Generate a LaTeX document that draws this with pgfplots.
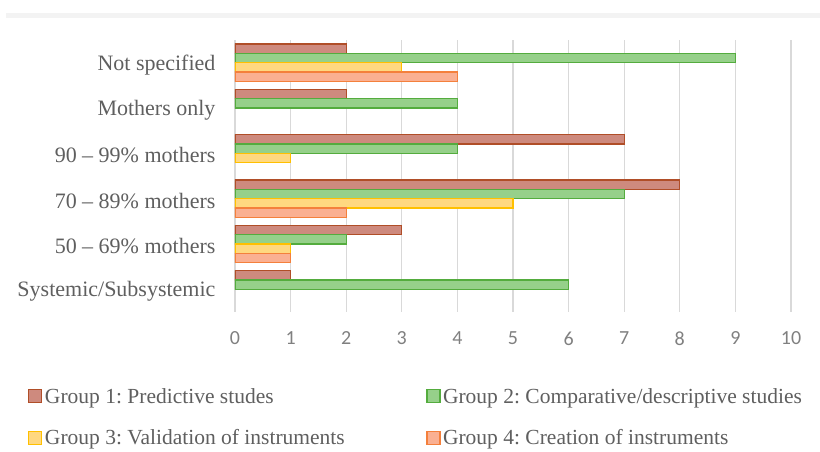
\documentclass[border=0pt]{standalone}
\usepackage{pgfplots}
\pgfplotsset{compat=1.18}
\usepackage{fontspec}
\setmainfont{Liberation Serif}
\newfontfamily\tickfont{Carlito}
\frenchspacing
\definecolor{txt}{RGB}{95,95,95}
\definecolor{tickc}{RGB}{128,128,128}
\definecolor{gridc}{RGB}{217,217,217}
\definecolor{gAf}{RGB}{206,138,126}\definecolor{gAd}{RGB}{176,78,40}
\definecolor{gBf}{RGB}{150,208,138}\definecolor{gBd}{RGB}{84,172,62}
\definecolor{gCf}{RGB}{255,216,128}\definecolor{gCd}{RGB}{255,192,0}
\definecolor{gDf}{RGB}{250,176,146}\definecolor{gDd}{RGB}{244,128,60}
\begin{document}
\begin{tikzpicture}
\useasboundingbox (-235pt,-140pt) rectangle (585pt,312pt);
\draw[color={rgb,255:red,243;green,243;blue,243}, line width=5pt] (-229pt,296.8pt) -- (585pt,296.8pt);
\begin{axis}[
  at={(0pt,0pt)}, anchor=south west,
  scale only axis, width=556pt, height=272pt,
  xmin=0, xmax=10, ymin=-0.5, ymax=5.5,
  xtick={0,...,10}, ytick={0,...,5},
  yticklabels={Systemic/Subsystemic, 50 -- 69\% mothers, 70 -- 89\% mothers, 90 -- 99\% mothers, Mothers only, Not specified},
  xmajorgrids, grid style={gridc, line width=1.2pt},
  axis line style={draw=none}, major tick length=0pt,
  /pgf/number format/assume math mode=true,
  x tick label style={font=\tickfont\fontsize{20}{22}\selectfont, text=tickc, yshift=-16pt},
  y tick label style={font=\fontsize{22}{24}\selectfont, text=txt, xshift=-16pt, yshift=-2pt},
  xbar, bar width=0.206,
  legend columns=2, legend cell align=left,
  legend style={at={(-0.3723,-0.27)}, anchor=north west, draw=none, inner sep=0pt,
    font=\fontsize{21.5}{24}\selectfont, text=txt,
    nodes={inner sep=2.5pt},
    /tikz/every even column/.append style={column sep=79pt},
    row sep=20pt},
  legend image code/.code={\draw[#1, line width=1.3pt] (0pt,-6.5pt) rectangle (13pt,6.5pt);},
]
\addplot[xbar, bar shift=0.309, fill=gAf, draw=gAd, line width=1.3pt] coordinates {(2,5) (2,4) (7,3) (8,2) (3,1) (1,0)};
\addplot[xbar, bar shift=0.103, fill=gBf, draw=gBd, line width=1.3pt] coordinates {(9,5) (4,4) (4,3) (7,2) (2,1) (6,0)};
\addplot[xbar, bar shift=-0.103, fill=gCf, draw=gCd, line width=1.3pt] coordinates {(3,5) (1,3) (5,2) (1,1)};
\addplot[xbar, bar shift=-0.309, fill=gDf, draw=gDd, line width=1.3pt] coordinates {(4,5) (2,2) (1,1)};
\legend{Group 1: Predictive studes, Group 2: Comparative/descriptive studies, Group 3: Validation of instruments, Group 4: Creation of instruments}
\end{axis}
\end{tikzpicture}
\end{document}
